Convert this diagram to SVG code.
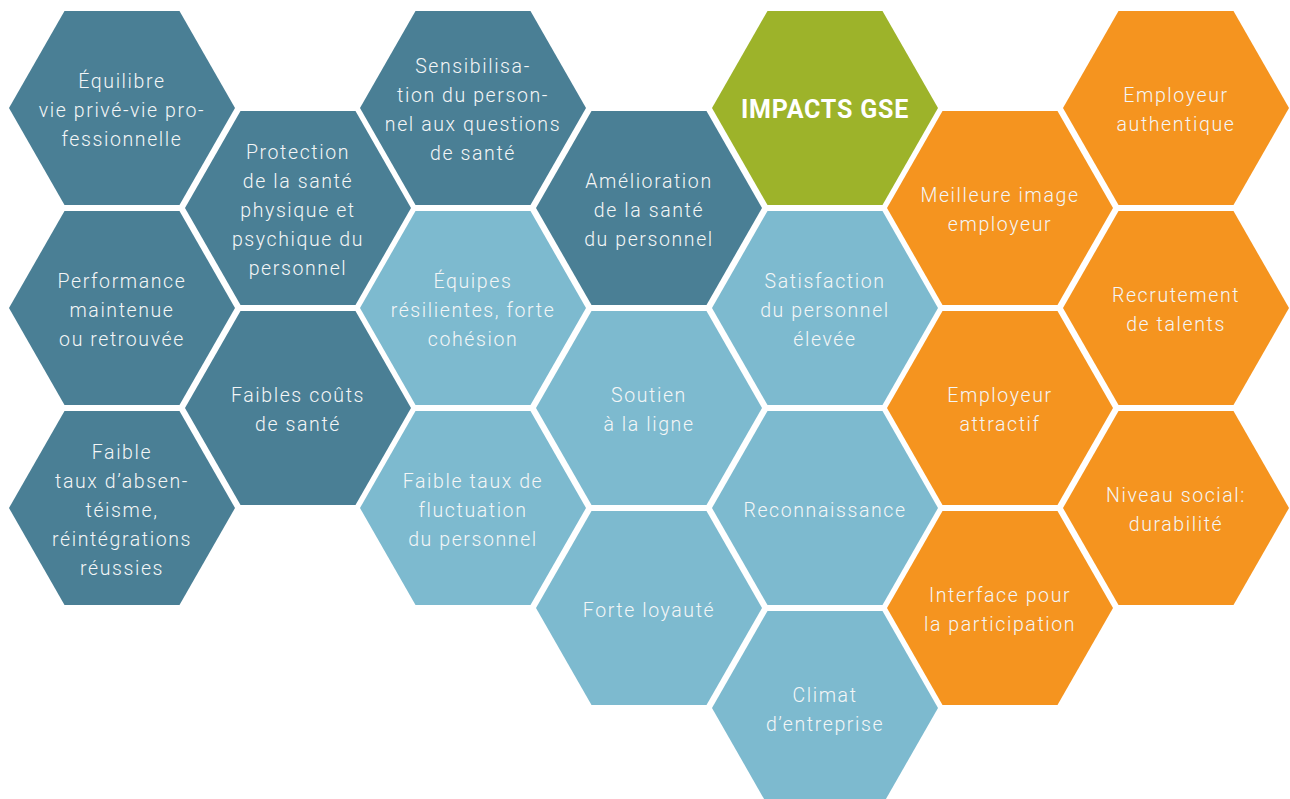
<svg xmlns="http://www.w3.org/2000/svg" xmlns:xlink="http://www.w3.org/1999/xlink" width="1290" height="799" viewBox="0 0 1290 799">
  <defs>
    <!-- flat-top hexagon centred on the origin -->
    <path id="hex" d="M-113,0 L-57.5,-97 L57.5,-97 L113,0 L57.5,97 L-57.5,97 Z"/>
  </defs>
  <style>
    .dark { fill: #4a7f95; }
    .light { fill: #7dbacf; }
    .green { fill: #9db32a; }
    .orange { fill: #f5941f; }
    text { font-family: Roboto, "Open Sans", sans-serif; font-size: 19.5px; font-weight: 300; fill: #f4f6f7; text-anchor: middle; letter-spacing: 1.6px; }
    text.title { font-size: 25px; font-weight: bold; letter-spacing: 0.8px; fill: #ffffff; }
  </style>
  <rect width="1290" height="799" fill="#ffffff"/>

  <!-- column 1 -->
  <g id="equilibre" transform="translate(122,108)">
    <use xlink:href="#hex" class="dark"/>
    <text y="-20.5">Équilibre</text><text y="8.5">vie privé-vie pro-</text><text y="37.5">fessionnelle</text>
  </g>
  <g id="performance" transform="translate(122,308)">
    <use xlink:href="#hex" class="dark"/>
    <text y="-20.5">Performance</text><text y="8.5">maintenue</text><text y="37.5">ou retrouvée</text>
  </g>
  <g id="absenteisme" transform="translate(122,508)">
    <use xlink:href="#hex" class="dark"/>
    <text y="-49.5">Faible</text><text y="-20.5">taux d’absen-</text><text y="8.5">téisme,</text><text y="37.5">réintégrations</text><text y="66.5">réussies</text>
  </g>

  <!-- column 2 -->
  <g id="protection" transform="translate(298,208)">
    <use xlink:href="#hex" class="dark"/>
    <text y="-49.5">Protection</text><text y="-20.5">de la santé</text><text y="8.5">physique et</text><text y="37.5">psychique du</text><text y="66.5">personnel</text>
  </g>
  <g id="couts" transform="translate(298,408)">
    <use xlink:href="#hex" class="dark"/>
    <text y="-6">Faibles coûts</text><text y="23">de santé</text>
  </g>

  <!-- column 3 -->
  <g id="sensibilisation" transform="translate(473,108)">
    <use xlink:href="#hex" class="dark"/>
    <text y="-35">Sensibilisa-</text><text y="-6">tion du person-</text><text y="23">nel aux questions</text><text y="52">de santé</text>
  </g>
  <g id="equipes" transform="translate(473,308)">
    <use xlink:href="#hex" class="light"/>
    <text y="-20.5">Équipes</text><text y="8.5">résilientes, forte</text><text y="37.5">cohésion</text>
  </g>
  <g id="fluctuation" transform="translate(473,508)">
    <use xlink:href="#hex" class="light"/>
    <text y="-20.5">Faible taux de</text><text y="8.5">fluctuation</text><text y="37.5">du personnel</text>
  </g>

  <!-- column 4 -->
  <g id="amelioration" transform="translate(649,208)">
    <use xlink:href="#hex" class="dark"/>
    <text y="-20.5">Amélioration</text><text y="8.5">de la santé</text><text y="37.5">du personnel</text>
  </g>
  <g id="soutien" transform="translate(649,408)">
    <use xlink:href="#hex" class="light"/>
    <text y="-6">Soutien</text><text y="23">à la ligne</text>
  </g>
  <g id="loyaute" transform="translate(649,608)">
    <use xlink:href="#hex" class="light"/>
    <text y="8.5">Forte loyauté</text>
  </g>

  <!-- column 5 -->
  <g id="impacts" transform="translate(825,108)">
    <use xlink:href="#hex" class="green"/>
    <text class="title" y="9.5">IMPACTS GSE</text>
  </g>
  <g id="satisfaction" transform="translate(825,308)">
    <use xlink:href="#hex" class="light"/>
    <text y="-20.5">Satisfaction</text><text y="8.5">du personnel</text><text y="37.5">élevée</text>
  </g>
  <g id="reconnaissance" transform="translate(825,508)">
    <use xlink:href="#hex" class="light"/>
    <text y="8.5">Reconnaissance</text>
  </g>
  <g id="climat" transform="translate(825,708)">
    <use xlink:href="#hex" class="light"/>
    <text y="-6">Climat</text><text y="23">d’entreprise</text>
  </g>

  <!-- column 6 -->
  <g id="image" transform="translate(1000,208)">
    <use xlink:href="#hex" class="orange"/>
    <text y="-6">Meilleure image</text><text y="23">employeur</text>
  </g>
  <g id="attractif" transform="translate(1000,408)">
    <use xlink:href="#hex" class="orange"/>
    <text y="-6">Employeur</text><text y="23">attractif</text>
  </g>
  <g id="interface" transform="translate(1000,608)">
    <use xlink:href="#hex" class="orange"/>
    <text y="-6">Interface pour</text><text y="23">la participation</text>
  </g>

  <!-- column 7 -->
  <g id="authentique" transform="translate(1176,108)">
    <use xlink:href="#hex" class="orange"/>
    <text y="-6">Employeur</text><text y="23">authentique</text>
  </g>
  <g id="recrutement" transform="translate(1176,308)">
    <use xlink:href="#hex" class="orange"/>
    <text y="-6">Recrutement</text><text y="23">de talents</text>
  </g>
  <g id="durabilite" transform="translate(1176,508)">
    <use xlink:href="#hex" class="orange"/>
    <text y="-6">Niveau social:</text><text y="23">durabilité</text>
  </g>
</svg>
